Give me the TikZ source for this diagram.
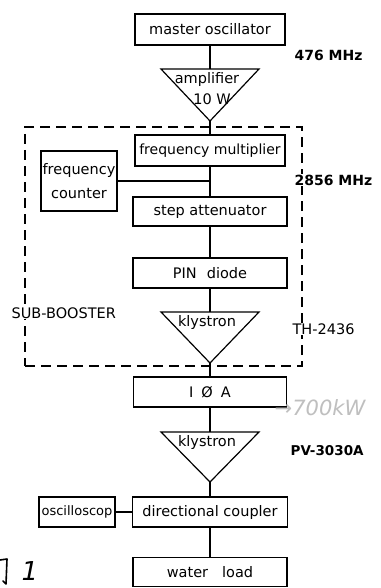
\documentclass[tikz,border=0pt]{standalone}
\usepackage{fontspec}
\setmainfont{DejaVu Sans}
\begin{document}
\begin{tikzpicture}[x=1pt,y=-1pt,line width=1.2pt,
  fnt/.style={font=\fontsize{14.5}{17}\selectfont},
  box/.style={draw,rectangle,minimum height=30pt,inner sep=0pt,fnt},
  txt/.style={inner sep=0pt,fnt},
  tri/.style={draw,line join=miter},
  lab/.style={anchor=west,inner sep=1pt,fill=white,font=\fontsize{14}{17}\selectfont\bfseries},
  labr/.style={anchor=west,inner sep=1pt,fill=white,fnt},
  dashbox/.style={draw,dash pattern=on 10pt off 6pt,rectangle,inner sep=0pt},
  hand/.style={inner sep=0pt,text=gray!50,font=\fontsize{21}{21}\selectfont\itshape}]
\useasboundingbox (0,0) rectangle (380,588);
\fill[white] (0,0) rectangle (380,588);

% sub-booster frame
\node[dashbox,minimum width=277pt,minimum height=239pt] (sub) at (163.5,246.5) {};

% main chain
\node[box,minimum width=150pt,minimum height=31pt] (mo) at (210,29.5) {master oscillator};
\coordinate (ampT) at (210,69);
\draw[tri] (161,69) -- (259,69) -- (210,121) coordinate (ampA) -- cycle;
\node[txt] (ampt1) at (207,80) {amplifier};
\node[txt] (ampt2) at (212,99) {10 W};

\node[box,minimum width=150pt,minimum height=31pt,font=\fontsize{14}{17}\selectfont] (fm) at (210,150.5) {frequency multiplier};
\node[box,minimum width=76pt,minimum height=60pt,align=center] (fc) at (79,181) {frequency\\[7pt]counter};
\coordinate (tap) at (210,181);

\node[box,minimum width=154pt,minimum height=29pt] (sa) at (210,211.5) {step attenuator};
\node[box,minimum width=154pt,minimum height=30pt] (pin) at (210,273) {PIN\hspace{0.7em}diode};

\coordinate (k1T) at (210,312);
\draw[tri] (161,312) -- (259,312) -- (210,363) coordinate (k1A) -- cycle;
\node[txt] (k1t) at (207,322) {klystron};

\node[box,minimum width=153pt,minimum height=30pt] (ioa) at (210,392) {I\hspace{8pt}Ø\hspace{8pt}A};

\coordinate (k2T) at (210,432);
\draw[tri] (161,432) -- (259,432) -- (210,482) coordinate (k2A) -- cycle;
\node[txt] (k2t) at (207,442) {klystron};

\node[box,minimum width=155pt,minimum height=30pt] (dc) at (210,512) {directional coupler};
\node[box,minimum width=76pt,minimum height=30pt,font=\fontsize{13}{15}\selectfont] (osc) at (77,512) {oscilloscop};
\node[box,minimum width=154pt,minimum height=29pt] (wl) at (210,572) {water\hspace{14pt}load};

% connectors
\draw (mo) -- (ampT);
\draw (ampA) -- (fm);
\draw (fm) -- (sa);
\draw (fc.east) -- (tap);
\draw (sa) -- (pin);
\draw (pin) -- (k1T);
\draw (k1A) -- (ioa);
\draw (ioa) -- (k2T);
\draw (k2A) -- (dc);
\draw (osc) -- (dc);
\draw (dc) -- (wl);

% side labels
\node[lab] (f1) at (293,55) {476 MHz};
\node[lab] (f2) at (293,180) {2856 MHz};
\node[labr] (sb) at (10,313) {SUB-BOOSTER};
\node[labr] (th) at (291,329) {TH-2436};
\node[lab,font=\fontsize{13.5}{16}\selectfont\bfseries] (pv) at (289,451) {PV-3030A};
\node[hand] (kw) at (320,408) {→700kW};

% handwritten figure mark (left part cut off)
\draw[line width=1.6pt,line cap=round,line join=round] (0,560) -- (7,559) -- (6,584) -- (3,581);
\node[inner sep=0pt,font=\fontsize{26}{26}\selectfont\itshape] (fig) at (30,571) {1};
\end{tikzpicture}
\end{document}
